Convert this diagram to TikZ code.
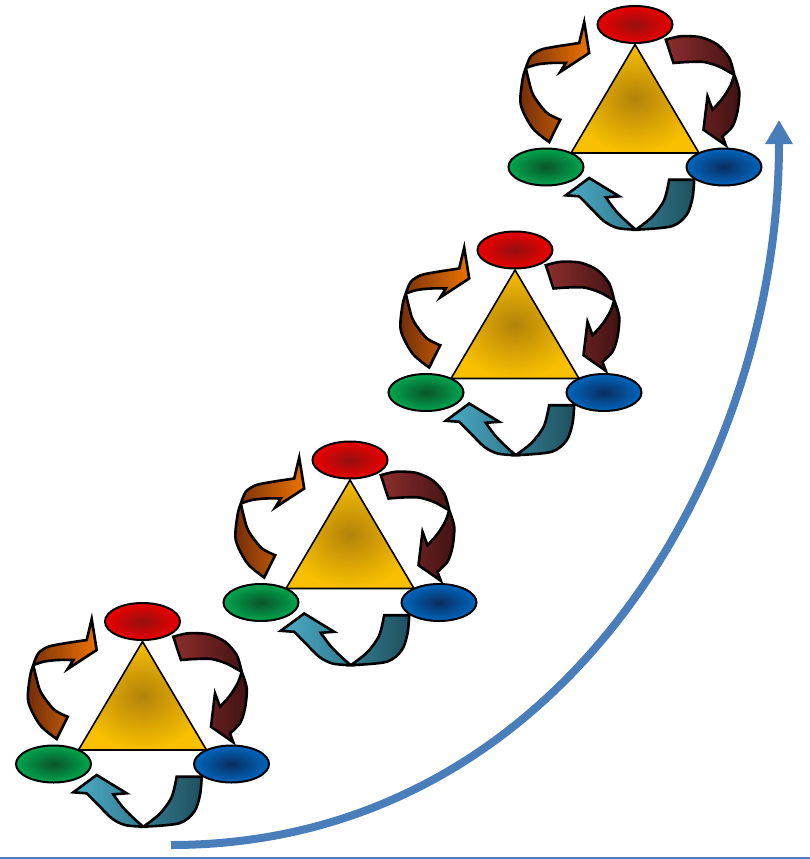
\documentclass[tikz,border=0pt]{standalone}
\usepackage{tikz}
\usetikzlibrary{shapes.geometric,arrows.meta}

\definecolor{rubyC}{RGB}{150,15,15}
\definecolor{rubyE}{RGB}{235,0,0}
\definecolor{leafC}{RGB}{10,85,40}
\definecolor{leafE}{RGB}{0,166,80}
\definecolor{seaC}{RGB}{10,45,95}
\definecolor{seaE}{RGB}{0,102,190}
\definecolor{goldC}{RGB}{180,130,10}
\definecolor{goldE}{RGB}{248,192,0}
\definecolor{emberL}{RGB}{115,45,10}
\definecolor{emberR}{RGB}{235,115,0}
\definecolor{wineL}{RGB}{140,45,45}
\definecolor{wineR}{RGB}{65,18,18}
\definecolor{tideL}{RGB}{75,172,198}
\definecolor{tideR}{RGB}{30,80,95}
\definecolor{riseblue}{RGB}{74,126,187}

\begin{document}
\begin{tikzpicture}[x=1pt,y=-1pt,
  outline/.style={draw=black,line width=2.6pt},
  blob/.style={ellipse,draw=black,line width=2pt,minimum width=75pt,minimum height=37pt,inner sep=0pt},
  triad/.pic={
    % orange arrow, left side
    \path[outline,left color=emberL,right color=emberR]
      plot[smooth] coordinates {(-85.8,117.5) (-102.5,103.5) (-114.2,80.2) (-112.5,55.2) (-109.2,43.5)}
      -- plot[smooth] coordinates {(-109.2,43.5) (-106,57) (-101.5,71) (-88.5,88) (-74.8,95.2)} -- cycle
      plot[smooth] coordinates {(-109.2,43.5) (-104.2,31.8) (-94.2,25.2) (-77.5,21.8) (-55.8,18.5)}
      -- (-50.8,-2.5) -- (-45.8,28.5) -- (-74.8,47.5) -- (-69.2,38.5)
      -- plot[smooth] coordinates {(-69.2,38.5) (-84.2,38.5) (-98,40) (-109.2,43.5)} -- cycle;
    % dark red arrow, right side
    \path[outline,left color=wineL,right color=wineR]
      plot[smooth] coordinates {(30.8,15.2) (45.8,11.8) (65.8,12.8) (82.5,20.2) (94.2,33.5) (99.2,50.2)}
      -- plot[smooth] coordinates {(99.2,50.2) (94.2,47.5) (84,42) (69,37.5) (52.5,37.5) (38.5,38.5)} -- cycle
      plot[smooth] coordinates {(99.2,50.2) (104.2,66.8) (102.5,86.8) (97.5,101.8) (87.5,111.8)}
      -- (90.8,120.8) -- (68.5,105.2) -- (72.5,71.8) -- (77.5,85.2)
      -- plot[smooth] coordinates {(77.5,85.2) (87.5,74) (95.5,61) (99.2,50.2)} -- cycle;
    % teal arrow, bottom
    \path[outline,left color=tideL,right color=tideR]
      (34.2,155.2) -- (59.2,155.2)
      -- plot[smooth] coordinates {(59.2,155.2) (57.5,173.5) (51.7,190.2) (36.7,201.8) (0.8,205.2)}
      -- plot[smooth] coordinates {(0.8,205.2) (17,192.5) (29,176) (34.2,155.2)} -- cycle
      plot[smooth] coordinates {(0.8,205.2) (-17.5,203.5) (-30.8,196.8) (-44.2,183.5) (-55.8,171.8)}
      -- (-69.2,170.8) -- (-45.8,153.5) -- (-15.8,171.8) -- (-29.2,172.8)
      -- plot[smooth] coordinates {(-29.2,172.8) (-19.5,186) (-8,197.5) (0.8,205.2)} -- cycle;
    \path[draw=black,line width=1.6pt,inner color=goldC,outer color=goldE]
      (0,20) -- (64,128.5) -- (-64,128.5) -- cycle;
    \node[blob,inner color=rubyC,outer color=rubyE] (-top) at (0,0) {};
    \node[blob,inner color=leafC,outer color=leafE] (-left) at (-89,142.5) {};
    \node[blob,inner color=seaC,outer color=seaE] (-right) at (89,142.5) {};
  }]
\useasboundingbox (0,0) rectangle (810,859);
\pic (s1) at (142.5,621.5) {triad};
\pic (s2) at (350,460) {triad};
\pic (s3) at (515,250) {triad};
\pic (s4) at (635,24.5) {triad};
\coordinate (rise-a) at (171,845);
\coordinate (rise-b) at (779,120);
\draw[riseblue,line width=8pt,-{Triangle[width=26pt,length=24pt]}]
  (rise-a) .. controls (560,845) and (779,470) .. (rise-b);
\draw[riseblue,line width=1.5pt] (0,858) -- (810,858);
\end{tikzpicture}
\end{document}
